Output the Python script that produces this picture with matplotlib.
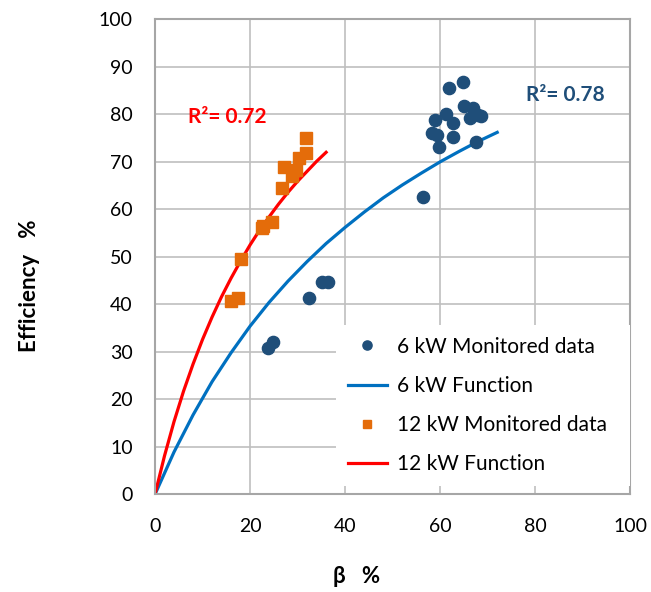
from matplotlib import pyplot as plt

# 6 kW monitored data (beta %, efficiency %)
beta_6kw = [23.8, 24.9, 32.4, 35.2, 36.3, 56.4, 61.9, 64.7, 59.0, 61.2, 62.6,
            58.2, 59.3, 59.8, 62.8, 65.1, 67.0, 66.3, 68.0, 68.6, 67.5]
eff_6kw = [30.7, 32.0, 41.3, 44.6, 44.8, 62.5, 85.6, 86.7, 78.8, 80.0, 78.1,
           76.0, 75.7, 73.1, 75.3, 81.8, 81.4, 79.2, 79.9, 79.7, 74.2]

# 12 kW monitored data
beta_12kw = [31.8, 31.7, 30.4, 27.2, 29.6, 28.8, 26.7, 22.8, 24.7, 22.6, 18.1, 15.9, 17.5]
eff_12kw = [75.0, 71.8, 70.8, 69.0, 68.3, 67.1, 64.4, 56.5, 57.4, 56.0, 49.5, 40.7, 41.4]

# fitted curves
fit6_x = [0, 4, 8, 12, 16, 20, 24, 28, 32, 36, 40, 44, 48, 52, 56, 60, 64, 68, 72]
fit6_y = [0, 8.9, 16.7, 23.7, 29.8, 35.4, 40.4, 44.9, 49.0, 52.8, 56.2, 59.4,
          62.4, 65.1, 67.6, 70.0, 72.2, 74.3, 76.2]
fit12_x = [0, 2, 4, 6, 8, 10, 12, 14, 16, 18, 20, 22, 24, 26, 28, 30, 32, 34, 36]
fit12_y = [0, 8.1, 15.3, 21.7, 27.4, 32.6, 37.3, 41.6, 45.5, 49.1, 52.5, 55.6,
           58.4, 61.1, 63.6, 65.9, 68.0, 70.1, 72.0]

x_ticks = [0, 20, 40, 60, 80, 100]
y_ticks = [0, 10, 20, 30, 40, 50, 60, 70, 80, 90, 100]

plt.rcParams['font.family'] = ['Lato', 'DejaVu Sans']

fig = plt.figure(figsize=(6.51, 5.92), dpi=100)
ax = fig.add_axes([0.2381, 0.165, 0.7301, 0.8024])

ax.plot(beta_6kw, eff_6kw, 'o', color='#1F4E79', markersize=8.8, label='6 kW Monitored data', zorder=3)
ax.plot(fit6_x, fit6_y, '-', color='#0070C0', lw=2.3, label='6 kW Function', zorder=2)
ax.plot(beta_12kw, eff_12kw, 's', color='#E46C0A', markersize=8, label='12 kW Monitored data', zorder=3)
ax.plot(fit12_x, fit12_y, '-', color='#FF0000', lw=2.3, label='12 kW Function', zorder=2)

ax.set_xlim(0, 100)
ax.set_ylim(0, 100)
ax.set_xticks(x_ticks)
ax.set_yticks(y_ticks)
ax.tick_params(length=0, labelsize=14)
ax.tick_params(axis='y', pad=16)
ax.tick_params(axis='x', pad=17)
ax.grid(True, color='#BFBFBF', lw=1.2)
ax.set_axisbelow(True)
for s in ax.spines.values():
    s.set_color('#A6A6A6')
    s.set_linewidth(1.5)

ax.set_xlabel('β   %', fontsize=16, fontweight='bold', va='center', ha='center')
ax.xaxis.set_label_coords(0.425, -0.174)
ax.set_ylabel('Efficiency   %', fontsize=16, fontweight='bold', va='center', ha='center')
ax.yaxis.set_label_coords(-0.265, 0.44)

ax.text(6.9, 79.4, 'R\u00b2= 0.72', color='#FF0000', fontsize=15, fontweight='bold', va='center')
ax.text(78.1, 84.1, 'R\u00b2= 0.78', color='#1F4E79', fontsize=15, fontweight='bold', va='center')

leg = ax.legend(loc='upper left', bbox_to_anchor=(0.381, 0.356, 0.619, 0.0), mode='expand',
                fontsize=15, frameon=True, facecolor='white', edgecolor='none', framealpha=1,
                fancybox=False, borderpad=0.55, labelspacing=0.92, handlelength=1.9,
                handletextpad=0.45, markerscale=0.75, borderaxespad=0)

fig.savefig('out.png', dpi=100)
